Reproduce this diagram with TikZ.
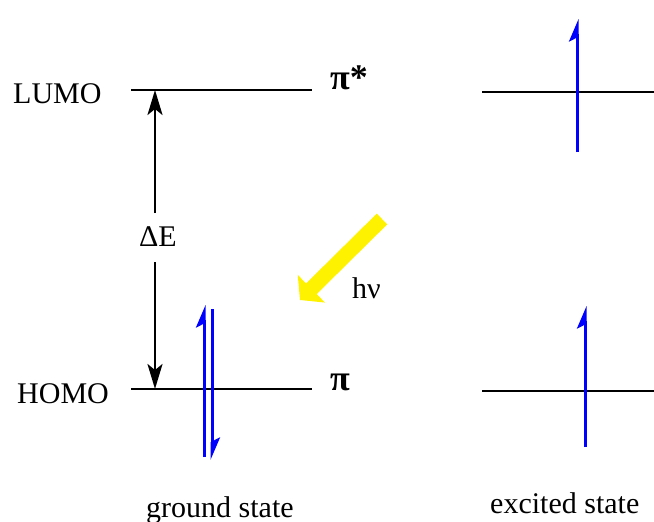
\documentclass[tikz,border=0pt]{standalone}
\usepackage{fontspec}
\setmainfont{Liberation Serif}
\usetikzlibrary{arrows.meta}
\tikzset{
  lvl/.style={line width=2.5pt,black},
  lbl/.style={inner sep=0pt,anchor=base west,font=\fontsize{30}{32}\selectfont},
  pilbl/.style={inner sep=0pt,anchor=base west,font=\fontsize{36}{38}\selectfont\bfseries},
  gap/.style={line width=2.5pt,-{Stealth[length=25pt,width=15pt,inset=6pt]}},
  spin/.style={line width=3pt,blue,-{Stealth[left,length=19pt,width=16pt,inset=4pt]}},
  photon/.style={line width=15pt,yellow,-{Triangle[length=16pt,width=38pt]}}
}
\begin{document}
\begin{tikzpicture}[x=1pt,y=-1pt]
\useasboundingbox (0,0) rectangle (654,522);
% levels
\coordinate (L1) at (131,90);  \coordinate (L2) at (312,90);
\coordinate (H1) at (131,389); \coordinate (H2) at (312,389);
\coordinate (EL1) at (482,92); \coordinate (EL2) at (654,92);
\coordinate (EH1) at (482,391); \coordinate (EH2) at (654,391);
\draw[lvl] (L1) -- (L2);
\draw[lvl] (H1) -- (H2);
\draw[lvl] (EL1) -- (EL2);
\draw[lvl] (EH1) -- (EH2);
% labels
\node[lbl] (lumo) at (13,103) {LUMO};
\node[lbl] (homo) at (17,403) {HOMO};
\node[pilbl] (pistar) at (330,89) {π*};
\node[pilbl] (pi) at (330,390) {π};
\node[lbl] (dE) at (139,246) {ΔE};
\node[lbl] (hv) at (352,298) {hν};
\node[lbl] (gs) at (146,517) {ground state};
\node[lbl] (es) at (490,513) {excited state};
% gap arrows
\coordinate (dEt) at (155,213); \coordinate (dEtop) at (155,90);
\coordinate (dEb) at (155,262); \coordinate (dEbot) at (155,389);
\draw[gap] (dEt) -- (dEtop);
\draw[gap] (dEb) -- (dEbot);
% photon
\coordinate (ph1) at (382,219); \coordinate (ph2) at (300,300);
\draw[photon] (ph1) -- (ph2);
% spins ground
\coordinate (g1a) at (204,457); \coordinate (g1b) at (204,305);
\coordinate (g2a) at (212,309); \coordinate (g2b) at (212,460);
\draw[spin] (g1a) -- (g1b);
\draw[spin] (g2a) -- (g2b);
% spins excited
\coordinate (e1a) at (577,152); \coordinate (e1b) at (577,19);
\coordinate (e2a) at (585,447); \coordinate (e2b) at (585,306);
\draw[spin] (e1a) -- (e1b);
\draw[spin] (e2a) -- (e2b);
\end{tikzpicture}
\end{document}
